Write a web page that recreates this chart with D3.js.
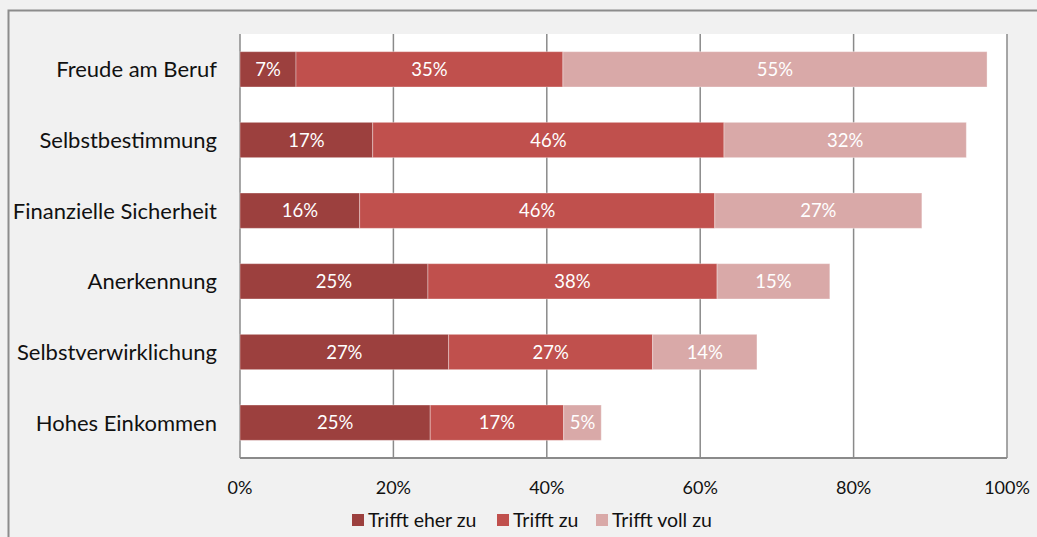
<!DOCTYPE html>
<html><head><meta charset="utf-8">
<script src="https://cdn.jsdelivr.net/npm/d3@7"></script>
<style>body{margin:0;background:#f1f1f1;}svg{display:block;font-family:Lato,"Open Sans",sans-serif;}</style>
</head><body>
<script>
const categories = ["Freude am Beruf","Selbstbestimmung","Finanzielle Sicherheit","Anerkennung","Selbstverwirklichung","Hohes Einkommen"];
const seriesNames = ["Trifft eher zu","Trifft zu","Trifft voll zu"];
const eherZu = [7.3, 17.3, 15.6, 24.5, 27.2, 24.8];
const zu = [34.8, 45.8, 46.3, 37.7, 26.6, 17.4];
const vollZu = [55.3, 31.6, 27.0, 14.7, 13.6, 4.9];
const ticks = [0, 20, 40, 60, 80, 100];
const colors = ["#9c403e", "#c0504d", "#d9a9a8"];

const W = 1037, H = 537;
const svg = d3.select("body").append("svg").attr("width", W).attr("height", H);
svg.append("rect").attr("x", 8.5).attr("y", 10.5).attr("width", W + 20).attr("height", H + 20)
  .attr("fill", "#f1f1f1").attr("stroke", "#8c8c8c").attr("stroke-width", 2);

const m = {left: 240, right: 1007, top: 34, bottom: 458};
const x = d3.scaleLinear().domain([0, 100]).range([m.left, m.right]);
const y = d3.scaleBand().domain(categories).range([m.top, m.bottom]).paddingInner(0.5).paddingOuter(0.25);

svg.append("rect").attr("x", m.left).attr("y", m.top).attr("width", m.right - m.left).attr("height", m.bottom - m.top).attr("fill", "#fff");

// gridlines
svg.append("g").selectAll("line").data(ticks).join("line")
  .attr("x1", d => x(d)).attr("x2", d => x(d)).attr("y1", m.top).attr("y2", m.bottom)
  .attr("stroke", "#8a8a8a").attr("stroke-width", 1.5);
svg.append("line").attr("x1", m.left).attr("x2", m.right).attr("y1", m.bottom).attr("y2", m.bottom)
  .attr("stroke", "#8a8a8a").attr("stroke-width", 2);

const data = categories.map((c, i) => ({cat: c, v: [eherZu[i], zu[i], vollZu[i]]}));
const stack = d3.stack().keys([0, 1, 2]).value((d, k) => d.v[k]);
const series = stack(data);

const g = svg.append("g");
series.forEach((s, k) => {
  const gg = g.append("g");
  gg.selectAll("rect").data(s).join("rect")
    .attr("x", d => x(d[0])).attr("width", d => x(d[1]) - x(d[0]))
    .attr("y", d => y(d.data.cat)).attr("height", y.bandwidth())
    .attr("fill", colors[k]).attr("stroke", "rgba(255,255,255,0.35)").attr("stroke-width", 1);
  gg.selectAll("text").data(s).join("text")
    .attr("x", d => (x(d[0]) + x(d[1])) / 2).attr("y", d => y(d.data.cat) + y.bandwidth() / 2)
    .attr("dy", "0.36em").attr("text-anchor", "middle").attr("fill", "#fff").attr("font-size", 18.5)
    .text(d => Math.round(d.data.v[k]) + "%");
});

// category labels
svg.append("g").selectAll("text").data(categories).join("text")
  .attr("x", 217).attr("y", d => y(d) + y.bandwidth() / 2).attr("dy", "0.36em")
  .attr("text-anchor", "end").attr("font-size", 22).attr("fill", "#111").text(d => d);

// x tick labels
svg.append("g").selectAll("text").data(ticks).join("text")
  .attr("x", d => x(d)).attr("y", 488).attr("dy", "0.36em").attr("text-anchor", "middle")
  .attr("font-size", 18).attr("fill", "#111").text(d => d + "%");

// legend
const legX = [352, 497, 596];
const leg = svg.append("g").selectAll("g").data(seriesNames).join("g")
  .attr("transform", (d, i) => `translate(${legX[i]},520)`);
leg.append("rect").attr("x", 0).attr("y", -6).attr("width", 12).attr("height", 12).attr("fill", (d, i) => colors[i]);
leg.append("text").attr("x", 16).attr("dy", "0.36em").attr("font-size", 19.5).attr("fill", "#111").text(d => d);
</script>
</body></html>
